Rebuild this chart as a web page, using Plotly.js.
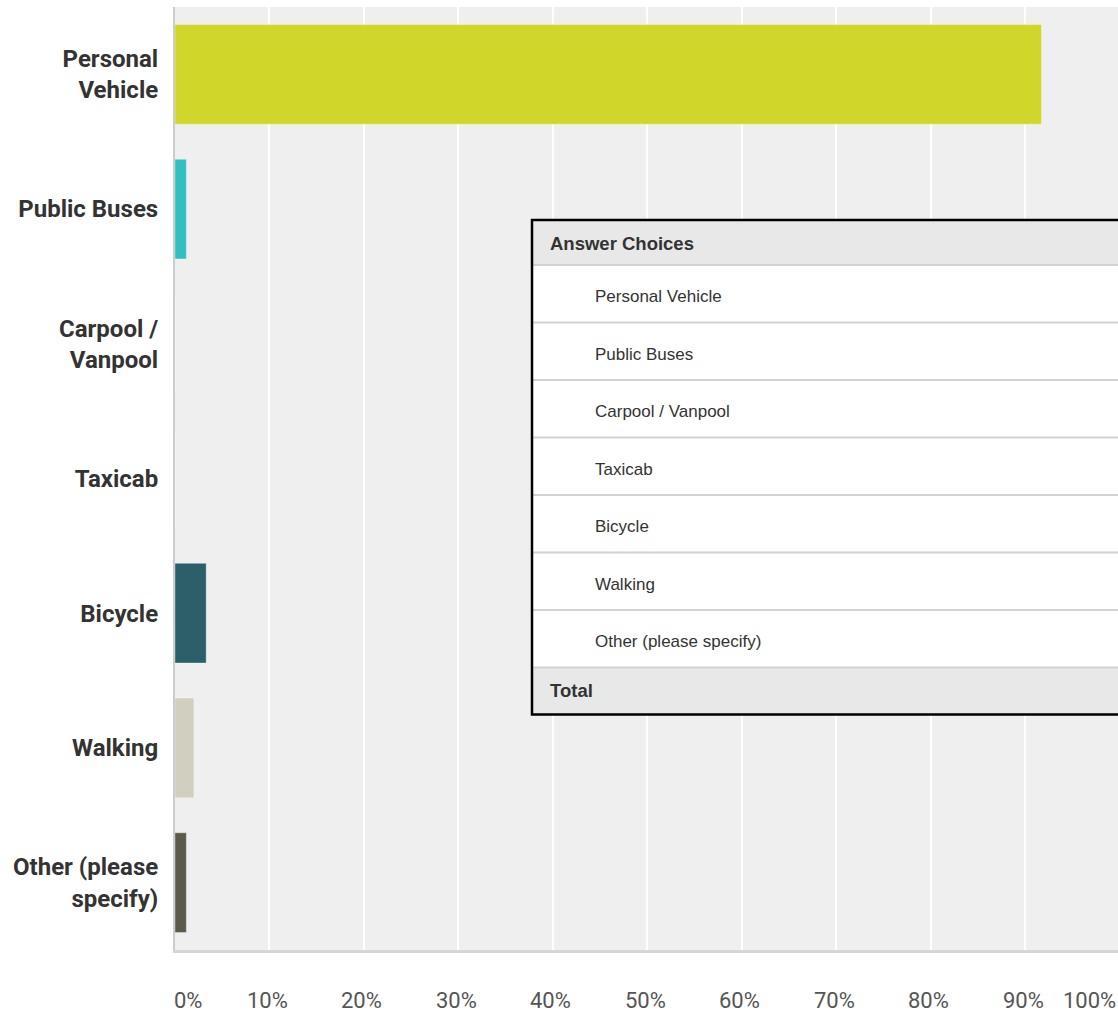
<!DOCTYPE html>
<html>
<head>
<meta charset="utf-8">
<script src="https://cdn.plot.ly/plotly-3.0.1.min.js"></script>
<style>
html,body{margin:0;padding:0;background:#fff;overflow:hidden;}
#chart{width:1118px;height:1013px;}
</style>
</head>
<body>
<div id="chart"></div>
<script>
// ---- data ----
const categories = ["Personal Vehicle", "Public Buses", "Carpool / Vanpool", "Taxicab", "Bicycle", "Walking", "Other (please specify)"];
const axisLabels = ["Personal<br>Vehicle", "Public Buses", "Carpool /<br>Vanpool", "Taxicab", "Bicycle", "Walking", "Other (please<br>specify)"];
const percents = [91.7, 1.2, 0, 0, 3.3, 2.0, 1.2];
const barColors = ["#d0d62a", "#33bfc1", "#7d7d7d", "#999999", "#2d5f6b", "#d1cfbf", "#5b5a4b"];
const xTicks = [0, 10, 20, 30, 40, 50, 60, 70, 80, 90, 100];
const xTickText = ["0%", "10%", "20%", "30%", "40%", "50%", "60%", "70%", "80%", "90%", "100%"];
const tableHeader = "Answer Choices";
const tableFooter = "Total";

// ---- layout geometry (pixels) ----
const W = 1118, H = 1013;
const PL = 175, PT = 7, PW = 943, PH = 943;
const XMAX = 99.8;
const px = x => (x - PL) / PW;
const py = y => 1 - (y - PT) / PH;

const labelFont = "Roboto, Liberation Sans, Arial, sans-serif";
const tableFont = "Liberation Sans, Arial, Helvetica, sans-serif";

const trace = {
  type: "bar",
  orientation: "h",
  y: categories,
  x: percents,
  marker: { color: barColors, line: { color: "rgba(255,255,255,0.35)", width: 1 } },
  hoverinfo: "none"
};

const shapes = [];
const annotations = [];

// x tick labels (drawn as annotations so the edge labels stay on the page)
xTicks.forEach((v, i) => {
  let anchor = "center", shift = -2, xv = v;
  if (i === 0) { anchor = "left"; shift = -3; }
  if (i === xTicks.length - 1) { anchor = "right"; shift = 0; xv = XMAX; }
  annotations.push({
    xref: "x", yref: "paper", x: xv, y: py(1000), xanchor: anchor, yanchor: "middle",
    xshift: shift, text: xTickText[i], showarrow: false,
    font: { family: labelFont, size: 22, color: "#555555" }
  });
});

// table overlay
const tL = 532, tR = 1130, tT = 221, hdrB = 265, rowH = 57.5;
const rowsTop = hdrB, totalTop = hdrB + rowH * categories.length, tB = totalTop + 46;
shapes.push({ type: "rect", xref: "paper", yref: "paper", x0: px(tL), x1: px(tR), y0: py(tT), y1: py(hdrB), fillcolor: "#e8e8e8", line: { width: 0 }, layer: "above" });
shapes.push({ type: "rect", xref: "paper", yref: "paper", x0: px(tL), x1: px(tR), y0: py(hdrB), y1: py(totalTop), fillcolor: "#ffffff", line: { width: 0 }, layer: "above" });
shapes.push({ type: "rect", xref: "paper", yref: "paper", x0: px(tL), x1: px(tR), y0: py(totalTop), y1: py(tB), fillcolor: "#e8e8e8", line: { width: 0 }, layer: "above" });
for (let i = 0; i <= categories.length; i++) {
  const yy = rowsTop + rowH * i;
  shapes.push({ type: "line", xref: "paper", yref: "paper", x0: px(tL), x1: px(tR), y0: py(yy), y1: py(yy), line: { color: "#d2d2d2", width: 2 }, layer: "above" });
}
shapes.push({ type: "rect", xref: "paper", yref: "paper", x0: px(tL), x1: px(tR), y0: py(tT - 1), y1: py(tB + 1), fillcolor: "rgba(0,0,0,0)", line: { color: "#000000", width: 2.5 }, layer: "above" });

annotations.push({ xref: "paper", yref: "paper", x: px(548), y: py((tT + hdrB) / 2), xanchor: "left", yanchor: "middle", text: "<b>" + tableHeader + "</b>", showarrow: false, font: { family: tableFont, size: 18.5, color: "#333333" } });
categories.forEach((c, i) => {
  annotations.push({ xref: "paper", yref: "paper", x: px(593), y: py(rowsTop + rowH * i + rowH / 2 + 3), xanchor: "left", yanchor: "middle", text: c, showarrow: false, font: { family: tableFont, size: 17, color: "#333333" } });
});
annotations.push({ xref: "paper", yref: "paper", x: px(548), y: py((totalTop + tB) / 2), xanchor: "left", yanchor: "middle", text: "<b>" + tableFooter + "</b>", showarrow: false, font: { family: tableFont, size: 18.5, color: "#333333" } });

const layout = {
  width: W, height: H,
  margin: { l: PL, r: W - PL - PW, t: PT, b: H - PT - PH, pad: 0 },
  paper_bgcolor: "#ffffff",
  plot_bgcolor: "#efefef",
  bargap: 0.26,
  showlegend: false,
  xaxis: {
    range: [0, XMAX], tickvals: xTicks, showticklabels: false,
    showgrid: true, gridcolor: "#ffffff", gridwidth: 2,
    zeroline: false, showline: true, linecolor: "#d6d6d6", linewidth: 3,
    fixedrange: true
  },
  yaxis: {
    autorange: "reversed", type: "category",
    tickvals: categories, ticktext: axisLabels,
    ticks: "", ticklabelstandoff: 10,
    tickfont: { family: labelFont, size: 24, color: "#333333", weight: "bold" },
    showgrid: false, zeroline: false,
    showline: true, linecolor: "#cccccc", linewidth: 2,
    fixedrange: true
  },
  shapes: shapes,
  annotations: annotations
};

Plotly.newPlot("chart", [trace], layout, { displayModeBar: false, staticPlot: true });
</script>
</body>
</html>
